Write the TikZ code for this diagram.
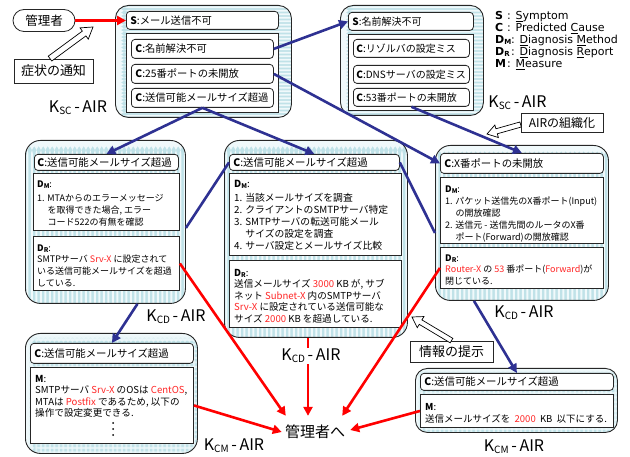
\documentclass[tikz,border=0pt]{standalone}
\usepackage{fontspec}
\setmainfont{Noto Sans CJK JP}
\newfontfamily\legfont{DejaVu Sans}
\usetikzlibrary{arrows.meta,calc}
\definecolor{navy}{HTML}{2E3192}
\definecolor{airbg}{HTML}{C0E2E8}
\definecolor{airst}{HTML}{F0F9FB}
\definecolor{rtx}{HTML}{FF2626}
\newcommand\rt[1]{\textcolor{rtx}{#1}}
\newcommand\subl[2]{\textbf{#1\raisebox{-1.2pt}{\fontsize{6.5}{6.5}\selectfont\bfseries #2}}}
\newcommand\hd[2]{\rule{0pt}{8pt}\subl{#1}{#2}:}
\newcommand\hM{\rule{0pt}{8pt}\textbf{M}:}
\newcommand\klab[1]{K\raisebox{-2pt}{\fontsize{10}{10}\selectfont #1}\,-\,AIR}
\newcommand\ind{\hspace*{1.15em}}
\newcommand\wsp{\hspace{0.45em}}
\newcommand\hollowarr[5]{%
  \coordinate (hb) at ($(#2)!#5!(#1)$);
  \draw[line width=0.7pt,fill=white,line join=miter]
   ($(#1)!#3!90:(#2)$) -- ($(hb)!#3!90:(#2)$) -- ($(hb)!#4!90:(#2)$) -- (#2)
   -- ($(hb)!#4!-90:(#2)$) -- ($(hb)!#3!-90:(#2)$) -- ($(#1)!#3!-90:(#2)$) -- cycle;}
\tikzset{
  panel/.style={draw=black!85, line width=0.9pt, fill=airbg, rounded corners=13pt, inner sep=0pt, anchor=north west},
  hstripes/.style={path picture={\foreach \k in {0,...,45}{\fill[airst] ([yshift={-\k*3.5pt-1pt}]path picture bounding box.north west) rectangle ++(400pt,-1.7pt);}}},
  vstripes/.style={path picture={\foreach \k in {0,...,50}{\fill[airst] ([xshift={\k*4.5pt+1pt}]path picture bounding box.north west) rectangle ++(2pt,-400pt);}}},
  checks/.style={path picture={\foreach \k in {0,...,50}{\fill[airst,opacity=0.7] ([xshift={\k*4.5pt+1pt}]path picture bounding box.north west) rectangle ++(2pt,-400pt); \fill[airst,opacity=0.7] ([yshift={-\k*4.5pt-1pt}]path picture bounding box.north west) rectangle ++(400pt,-2pt);}}},
  hbox/.style={draw=black!85, line width=0.8pt, fill=white, rounded corners=3.5pt, anchor=north west, inner xsep=4pt, inner ysep=0pt, align=left},
  tf/.style={font=\fontsize{10.3}{11}\selectfont},
  tfr/.style={font=\fontsize{10}{11}\selectfont},
  mf/.style={font=\fontsize{10.4}{11}\selectfont},
  frame/.style={draw=black!85, line width=0.9pt, fill=white, anchor=north west, inner sep=0pt},
  txt/.style={anchor=north west, inner sep=0pt, align=left, font=\fontsize{9}{11.8}\selectfont},
  lbox/.style={draw=black!85, line width=0.8pt, fill=white, inner sep=0pt},
  klabel/.style={font=\fontsize{16}{16}\selectfont, inner sep=1pt},
  barr/.style={draw=navy, line width=2.6pt, -{Triangle[length=9pt,width=9pt]}},
  bline/.style={draw=navy, line width=2.6pt},
  rarr/.style={draw=red, line width=2.6pt, -{Triangle[length=9pt,width=9pt]}},
  rline/.style={draw=red, line width=2.6pt},
  leg/.style={anchor=base west, inner sep=0pt, font=\legfont\fontsize{11}{12}\selectfont}
}
\begin{document}
\begin{tikzpicture}[x=1pt,y=-1pt]
\useasboundingbox (0,0) rectangle (630,457);

% admin and notice
\node[lbox, rounded corners=11pt, minimum width=62pt, minimum height=22pt, font=\fontsize{12.5}{13}\selectfont] (admin) at (44,20.5) {管理者};
\node[lbox, minimum width=79pt, minimum height=24pt, font=\fontsize{13}{14}\selectfont] (symp) at (53.5,71) {症状の通知};

% ---------- top-left KSC panel
\node[panel, hstripes, minimum width=176pt, minimum height=112pt] (P1) at (115,5) {};
\node[hbox, tf, text width=144pt, minimum height=18pt] (s1) at (126,11) {\textbf{S}:メール送信不可};
\node[frame, minimum width=152pt, minimum height=79pt] (f1) at (126,33) {};
\node[hbox, tf, text width=134pt, minimum height=19pt] (c11) at (131,39) {\textbf{C}:名前解決不可};
\node[hbox, tf, text width=134pt, minimum height=19pt] (c12) at (131,64) {\textbf{C}:25番ポートの未開放};
\node[hbox, tf, text width=134pt, minimum height=19pt] (c13) at (131,88) {\textbf{C}:送信可能メールサイズ超過};
\node[klabel] (kscl) at (78,108) {\klab{SC}};

% ---------- top-right KSC panel
\node[panel, hstripes, minimum width=143pt, minimum height=110pt] (P2) at (340,5) {};
\node[hbox, tfr, text width=117pt, minimum height=18pt] (s2) at (348,12) {\textbf{S}:名前解決不可};
\node[frame, minimum width=125pt, minimum height=76pt] (f2) at (348,34) {};
\node[hbox, tfr, inner xsep=3pt, text width=110pt, minimum height=18pt] (c21) at (353,39) {\textbf{C}:リゾルバの設定ミス};
\node[hbox, tfr, inner xsep=3pt, text width=110pt, minimum height=18pt] (c22) at (353,65) {\textbf{C}:DNSサーバの設定ミス};
\node[hbox, tfr, inner xsep=3pt, text width=110pt, minimum height=18pt] (c23) at (353,88) {\textbf{C}:53番ポートの未開放};
\node[klabel] (kscr) at (517.5,103) {\klab{SC}};

% legend
\node[leg] (lg1) at (495,20) {\textbf{S}};
\node[leg] (lg1t) at (507,20) {: \underline{S}ymptom};
\node[leg] (lg2) at (495,32) {\textbf{C}};
\node[leg] (lg2t) at (507,32) {: Predicted \underline{C}ause};
\node[leg] (lg3) at (495,44) {\textbf{D\raisebox{-1pt}{\fontsize{7}{7}\selectfont M}}};
\node[leg] (lg3t) at (511,44) {: \underline{D}iagnosis \underline{M}ethod};
\node[leg] (lg4) at (495,56) {\textbf{D\raisebox{-1pt}{\fontsize{7}{7}\selectfont R}}};
\node[leg] (lg4t) at (511,56) {: \underline{D}iagnosis \underline{R}eport};
\node[leg] (lg5) at (495,67.5) {\textbf{M}};
\node[leg] (lg5t) at (507,67.5) {: \underline{M}easure};

% AIR organisation box
\node[lbox, minimum width=82pt, minimum height=19pt, font=\fontsize{12}{13}\selectfont] (aor) at (562,122.5) {AIRの組織化};

% ---------- middle-left KCD panel
\node[panel, vstripes, rounded corners=15pt, minimum width=160pt, minimum height=163pt] (P3) at (25,140) {};
\node[hbox, mf, inner xsep=3pt, text width=138pt, minimum height=16pt] (h3) at (34,154) {\textbf{C}:送信可能メールサイズ超過};
\node[frame, minimum width=146pt, minimum height=57pt] (dm3) at (33,173) {};
\node[txt] (t3a) at ([xshift=4pt,yshift=-6pt]dm3.north west) {\hd{D}{M}\\[3pt]
1. MTAからのエラーメッセージ\\
\ind を取得できた場合, エラー\\
\ind コード522の有無を確認};
\node[frame, minimum width=146pt, minimum height=54pt] (dr3) at (33,236) {};
\node[txt] (t3b) at ([xshift=4pt,yshift=-7pt]dr3.north west) {\hd{D}{R}\\
SMTPサーバ \rt{Srv-X} に設定されて\\
いる送信可能メールサイズを超過\\
している.};
\node[klabel] (kcdl) at (176,317) {\klab{CD}};

% ---------- middle-centre KCD panel
\node[panel, vstripes, rounded corners=15pt, minimum width=183pt, minimum height=197pt] (P4) at (224,140) {};
\node[hbox, mf, text width=162pt, minimum height=16pt] (h4) at (229,154) {\textbf{C}:送信可能メールサイズ超過};
\node[frame, minimum width=172pt, minimum height=82pt] (dm4) at (229,173) {};
\node[txt, font=\fontsize{9.8}{11.8}\selectfont] (t4a) at ([xshift=5pt,yshift=-6pt]dm4.north west) {\hd{D}{M}\\[3pt]
1. 当該メールサイズを調査\\
2. クライアントのSMTPサーバ特定\\
3. SMTPサーバの転送可能メール\\
\ind サイズの設定を調査\\
4. サーバ設定とメールサイズ比較};
\node[frame, minimum width=172pt, minimum height=67pt] (dr4) at (229,260) {};
\node[txt, font=\fontsize{9.6}{11.6}\selectfont] (t4b) at ([xshift=5pt,yshift=-8pt]dr4.north west) {\hd{D}{R}\\
送信メールサイズ \rt{3000} KB が, サブ\\
ネット \rt{Subnet-X} 内のSMTPサーバ\\
\rt{Srv-X} に設定されている送信可能な\\
サイズ \rt{2000} KB を超過している.};
\node[klabel] (kcdc) at (311,356) {\klab{CD}};

% ---------- middle-right KCD panel
\node[panel, vstripes, rounded corners=15pt, minimum width=173pt, minimum height=155pt] (P5) at (435,145) {};
\node[hbox, mf, text width=155pt, minimum height=20pt] (h5) at (440,153) {\textbf{C}:X番ポートの未開放};
\node[frame, minimum width=163pt, minimum height=66pt] (dm5) at (440,177) {};
\node[txt] (t5a) at ([xshift=5pt,yshift=-7pt]dm5.north west) {\hd{D}{M}\\[1pt]
1. パケット送信先のX番ポート(Input)\\
\ind の開放確認\\
2. 送信元 - 送信先間のルータのX番\\
\ind ポート(Forward)の開放確認};
\node[frame, minimum width=163pt, minimum height=41pt] (dr5) at (440,247) {};
\node[txt] (t5b) at ([xshift=5pt,yshift=-6pt]dr5.north west) {\hd{D}{R}\\
\rt{Router-X} の \rt{53} 番ポート(\rt{Forward})が\\
閉じている.};
\node[klabel] (kcdr) at (524,313) {\klab{CD}};

% ---------- bottom-left KCM panel
\node[panel, checks, rounded corners=15pt, minimum width=172pt, minimum height=120pt] (P6) at (25,333) {};
\node[hbox, mf, text width=155pt, minimum height=20pt] (h6) at (30,343) {\textbf{C}:送信可能メールサイズ超過};
\node[frame, minimum width=163pt, minimum height=76pt] (m6) at (30,367) {};
\node[txt, font=\fontsize{9.6}{11.6}\selectfont] (t6) at ([xshift=5pt,yshift=-7pt]m6.north west) {\hM\\
SMTPサーバ \rt{Srv-X} のOSは \rt{CentOS},\\
MTAは \rt{Postfix} であるため, 以下の\\
操作で設定変更できる.};
\foreach \d in {0,1,2}
  \fill ([xshift=83pt,yshift={-56pt-\d*6pt}]m6.north west) circle (1pt);
\node[klabel] (kcml) at (234,446) {\klab{CM}};

% ---------- bottom-right KCM panel
\node[panel, checks, rounded corners=12pt, minimum width=202pt, minimum height=64pt] (P7) at (415,368) {};
\node[hbox, mf, text width=185pt, minimum height=17pt] (h7) at (420,373) {\textbf{C}:送信可能メールサイズ超過};
\node[frame, minimum width=193pt, minimum height=33pt] (m7) at (420,394) {};
\node[txt, font=\fontsize{9.5}{11.8}\selectfont] (t7) at ([xshift=5pt,yshift=-8pt]m7.north west) {\hM\\
送信メールサイズを\wsp\rt{2000}\wsp KB\wsp 以下にする.};
\node[klabel] (kcmr) at (514,447) {\klab{CM}};

% info box and goal
\node[lbox, minimum width=83pt, minimum height=21pt, font=\fontsize{13}{14}\selectfont] (info) at (451.5,351.5) {情報の提示};
\node[font=\fontsize{15}{15}\selectfont, inner sep=1pt] (goal) at (315,432) {管理者へ};

% ---------- connectors
\draw[rarr] (admin.east) -- (admin.east -| s1.west);
\draw[barr] (c11.east) -- (s2.west);
\draw[barr] (c12.east) -- (h5.west);
\draw[barr] (c23.south) -- (h5.north);
\draw[barr] (c13.south) -- (h3.north);
\draw[barr] (c13.south) -- (h4.north);
\draw[bline] (h4.west) -- ([yshift=-6pt]P3.east);
\draw[bline] (h4.east) -- ([yshift=-10pt]P5.west);
\draw[barr] ([xshift=32pt]P3.south) -- (h6.north);
\draw[barr] ([xshift=-48pt]P5.south) -- (h7.north);

\draw[rarr] (dr3.east) -- ([xshift=2pt,yshift=8pt]goal.north west);
\draw[rline] ([xshift=-3pt]kcdc.north |- P4.south) -- ([xshift=-3pt]kcdc.north);
\draw[rarr] ([xshift=-3pt]kcdc.south) -- ([xshift=-3pt,yshift=8pt]kcdc.south |- goal.north);
\draw[rarr] (dr5.west) -- ([xshift=-4pt,yshift=8pt]goal.north east);
\draw[rarr] (m6.east) -- ([xshift=-2pt]goal.west);
\draw[rarr] (m7.west) -- ([xshift=4pt,yshift=2pt]goal.east);

% hollow pointer arrows
\coordinate (hs1) at ([xshift=-3.5pt]symp.north);
\coordinate (tip1) at (93,27);
\hollowarr{hs1}{tip1}{3pt}{7pt}{11pt}
\coordinate (hs2) at ([yshift=-2pt]aor.west);
\coordinate (tip2) at (487,134);
\hollowarr{hs2}{tip2}{2.6pt}{6.5pt}{10pt}
\coordinate (hs3) at (info.north);
\coordinate (tip3) at (412,317);
\hollowarr{hs3}{tip3}{2.6pt}{6.5pt}{10pt}
\end{tikzpicture}
\end{document}
